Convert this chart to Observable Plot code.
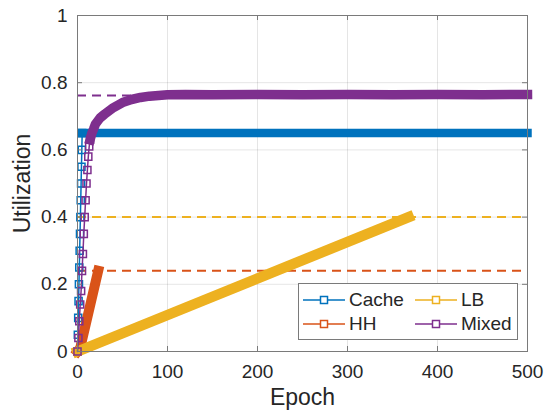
<!DOCTYPE html>
<html>
<head>
<meta charset="utf-8">
<script src="https://cdn.jsdelivr.net/npm/d3@7"></script>
<script src="https://cdn.jsdelivr.net/npm/@observablehq/plot@0.6"></script>
<style>
  body { margin: 0; background: #fff; }
  #chart { position: relative; width: 547px; height: 420px; font-family: "Liberation Sans", Arial, sans-serif; color: #262626; }
  #chart svg { display: block; }
  #legend { position: absolute; left: 298px; top: 283px; width: 220px; height: 57px; border: 1px solid #7a7a7a; background: #fff; box-sizing: border-box; }
  .entry { position: absolute; height: 24px; display: flex; align-items: center; font-size: 19px; }
  .entry svg { margin-right: 4px; }
</style>
</head>
<body>
<div id="chart"></div>
<script>
// Series, in plotting order
const seriesNames = ["Cache", "HH", "LB", "Mixed"];
const seriesColors = ["#0072BD", "#D95319", "#EDB120", "#7E2F8E"];

// Utilization per epoch for each workload
const cacheEpoch = [0, 0.4, 0.8, 1.2, 1.6, 2.0, 2.4, 2.8, 3.2, 3.6, 4.0, 4.4, 4.8, 5.2, 500];
const cacheUtil  = [0, 0.05, 0.10, 0.15, 0.20, 0.25, 0.30, 0.35, 0.40, 0.45, 0.50, 0.55, 0.60, 0.65, 0.65];

const hhEpoch = [0, 3, 23];
const hhUtil  = [0, 0.01, 0.24];

const lbEpoch = [0, 368];
const lbUtil  = [0, 0.40];

const mixedEpoch = [0, 1, 2, 3, 4, 5, 6, 7, 8, 9, 10, 11, 12, 13, 14, 16, 18, 20, 25, 30, 40, 50, 60, 70, 80, 90, 100, 120, 150, 200, 250, 300, 350, 400, 450, 500];
const mixedUtil  = [0, 0.04, 0.09, 0.14, 0.18, 0.24, 0.29, 0.35, 0.40, 0.45, 0.50, 0.54, 0.58, 0.61, 0.63, 0.65, 0.663, 0.677, 0.695, 0.706, 0.726, 0.741, 0.75, 0.756, 0.76, 0.762, 0.764, 0.765, 0.764, 0.765, 0.764, 0.765, 0.764, 0.765, 0.764, 0.765];

// Target utilization of each workload (dashed references)
const targetUtil = [0.65, 0.24, 0.40, 0.762];

// Axis ticks
const xTicks = [0, 100, 200, 300, 400, 500];
const yTicks = [0, 0.2, 0.4, 0.6, 0.8, 1];
const yTickLabels = ["0", "0.2", "0.4", "0.6", "0.8", "1"];

const epochs = [cacheEpoch, hhEpoch, lbEpoch, mixedEpoch];
const utils = [cacheUtil, hhUtil, lbUtil, mixedUtil];

// Where markers pack so tightly that they merge into a solid band, and how wide that band is
const bandFrom = [5.2, 0, 0, 14];
const bandWidth = [8.5, 10, 10.5, 9.5];

const rows = seriesNames.flatMap((name, i) =>
  epochs[i].map((e, j) => ({series: name, epoch: e, util: utils[i][j]})));
const targets = seriesNames.map((name, i) => ({series: name, util: targetUtil[i]}));
const color = Object.fromEntries(seriesNames.map((n, i) => [n, seriesColors[i]]));

const W = 547, H = 420;
const mL = 77, mR = 20, mT = 15, mB = 69;
const innerW = W - mL - mR, innerH = H - mT - mB;
const tickLen = 5;
const ink = "#262626";

const seriesMarks = seriesNames.flatMap((name, i) => {
  const pts = rows.filter(d => d.series === name);
  const early = pts.filter(d => d.epoch <= bandFrom[i]);
  const band = pts.filter(d => d.epoch >= bandFrom[i]);
  return [
    Plot.line(early, {x: "epoch", y: "util", stroke: color[name], strokeWidth: 1.5}),
    Plot.dot(early, {x: "epoch", y: "util", symbol: "square", r: 4, stroke: color[name], strokeWidth: 1.5, fill: "none"}),
    Plot.line(band, {x: "epoch", y: "util", stroke: color[name], strokeWidth: bandWidth[i], strokeLinecap: "square", strokeLinejoin: "round"})
  ];
});

const chart = Plot.plot({
  width: W, height: H,
  marginLeft: mL, marginRight: mR, marginTop: mT, marginBottom: mB,
  style: {fontFamily: "'Liberation Sans', Arial, sans-serif", color: ink, background: "#fff"},
  x: {domain: [0, 500]},
  y: {domain: [0, 1]},
  marks: [
    Plot.gridX(xTicks, {stroke: "#000", strokeOpacity: 0.1}),
    Plot.gridY(yTicks, {stroke: "#000", strokeOpacity: 0.1}),
    Plot.ruleY(targets, {y: "util", stroke: d => color[d.series], strokeWidth: 2, strokeDasharray: "9,6"}),
    ...seriesMarks,
    Plot.frame({stroke: "#7a7a7a", strokeWidth: 1}),
    Plot.ruleX(xTicks, {stroke: "#7a7a7a", insetTop: innerH - tickLen}),
    Plot.ruleX(xTicks, {stroke: "#7a7a7a", insetBottom: innerH - tickLen}),
    Plot.ruleY(yTicks, {stroke: "#7a7a7a", insetRight: innerW - tickLen}),
    Plot.ruleY(yTicks, {stroke: "#7a7a7a", insetLeft: innerW - tickLen}),
    Plot.axisX(xTicks, {tickSize: 0, tickPadding: 13, fontSize: 19, fill: ink, label: null, tickFormat: d => String(d)}),
    Plot.axisY(yTicks, {tickSize: 0, tickPadding: 10, fontSize: 19, fill: ink, label: null, tickFormat: d => yTickLabels[yTicks.indexOf(d)]}),
    Plot.text(["Epoch"], {frameAnchor: "bottom", dy: 53, fontSize: 23, fill: ink, textAnchor: "middle"}),
    Plot.text(["Utilization"], {frameAnchor: "left", dx: -55, rotate: -90, fontSize: 23, fill: ink, textAnchor: "middle"})
  ]
});

const root = document.getElementById("chart");
root.appendChild(chart);

// Legend: two columns, filled column by column
const legend = document.createElement("div");
legend.id = "legend";
const slots = [[4, 4], [4, 28], [116, 4], [116, 28]];
seriesNames.forEach((name, i) => {
  const e = document.createElement("div");
  e.className = "entry";
  e.style.left = slots[i][0] + "px";
  e.style.top = slots[i][1] + "px";
  const c = seriesColors[i];
  e.innerHTML = `<svg width="42" height="12"><line x1="0" y1="6" x2="42" y2="6" stroke="${c}" stroke-width="1.5"/>` +
    `<rect x="17.5" y="2.5" width="7" height="7" fill="#fff" stroke="${c}" stroke-width="1.5"/></svg><span>${name}</span>`;
  legend.appendChild(e);
});
root.appendChild(legend);
</script>
</body>
</html>
